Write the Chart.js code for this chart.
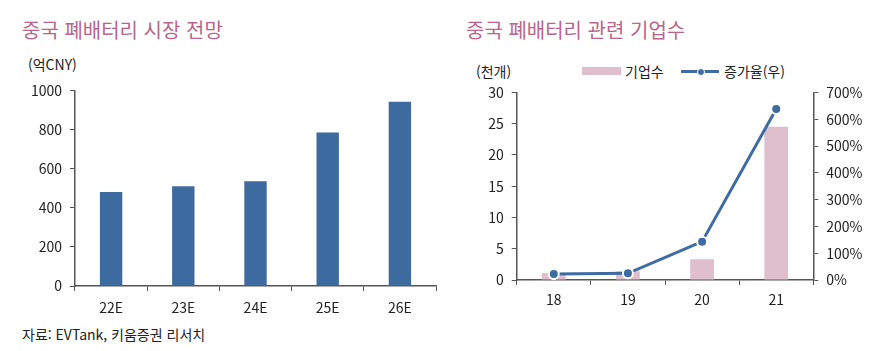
<!DOCTYPE html>
<html lang="ko">
<head>
<meta charset="utf-8">
<script src="https://cdn.jsdelivr.net/npm/chart.js@4"></script>
<style>
    body {
        margin: 0;
        width: 892px;
        height: 351px;
        background: #fff;
        font-family: "Noto Sans CJK KR", "Noto Sans", sans-serif;
        color: #222;
        position: relative;
        overflow: hidden;
    }
    .title {
        position: absolute;
        font-size: 20px;
        color: #b8668c;
        white-space: nowrap;
        line-height: 1;
    }
    .note {
        position: absolute;
        font-size: 14px;
        white-space: nowrap;
        line-height: 1;
    }
    .box {
        position: absolute;
        display: inline-block;
    }
    canvas { position: absolute; }
</style>
</head>
<body>

<div class="title" style="left:22px; top:20px;">중국 폐배터리 시장 전망</div>
<div class="note" style="left:28px; top:57px;">(억CNY)</div>
<div class="note" style="left:22px; top:327px;">자료: EVTank, 키움증권 리서치</div>

<div class="title" style="left:466px; top:20px;">중국 폐배터리 관련 기업수</div>
<div class="note" style="left:476px; top:64px;">(천개)</div>
<div class="box" style="left:582px; top:67px; width:39px; height:8px; background:#dfbfcc;"></div>
<div class="note" style="left:625px; top:64px;">기업수</div>
<div class="box" style="left:681px; top:70px; width:38px; height:3px; background:#3f6ba3;"></div>
<div class="box" style="left:697px; top:68px; width:6px; height:6px; border-radius:50%; background:#3f6ba3; border:1px solid #fff;"></div>
<div class="note" style="left:724px; top:64px;">증가율(우)</div>

<div style="position:absolute; left:0; top:74px; width:445px; height:242px;">
    <canvas id="marketChart"></canvas>
</div>
<div style="position:absolute; left:450px; top:76px; width:442px; height:239px;">
    <canvas id="companyChart"></canvas>
</div>

<script>
// 중국 폐배터리 시장 전망 (억CNY)
const marketYears = ['22E', '23E', '24E', '25E', '26E'];
const marketSize = [481, 510, 536, 785, 942];
const marketTicks = [0, 200, 400, 600, 800, 1000];

// 중국 폐배터리 관련 기업수 (천개) and 증가율
const companyYears = ['18', '19', '20', '21'];
const companyCount = [1.1, 1.4, 3.3, 24.5];
const growthRate = [22, 25, 143, 638];
const countTicks = [0, 5, 10, 15, 20, 25, 30];
const rateTicks = [0, 100, 200, 300, 400, 500, 600, 700];

const axisColor = '#555555';
const tickFont = { family: '"Noto Sans CJK KR", "Noto Sans", sans-serif', size: 14 };

Chart.defaults.animation = false;
Chart.defaults.color = '#222';

function axisGrid() {
    return {
        display: true,
        drawOnChartArea: false,
        drawTicks: true,
        tickLength: 5,
        color: axisColor,
        lineWidth: 1
    };
}

function fixedTicks(values) {
    return function(scale) {
        scale.ticks = values.map(v => ({ value: v }));
    };
}

// Left chart: market size bars
new Chart(document.getElementById('marketChart').getContext('2d'), {
    type: 'bar',
    data: {
        labels: marketYears,
        datasets: [{
            data: marketSize,
            backgroundColor: '#3d6a9f',
            barPercentage: 0.31,
            categoryPercentage: 1
        }]
    },
    options: {
        responsive: true,
        maintainAspectRatio: false,
        layout: { padding: { top: 5, right: 9, left: 0, bottom: 0 } },
        plugins: { legend: { display: false }, tooltip: { enabled: false } },
        scales: {
            x: {
                grid: axisGrid(),
                border: { color: axisColor, width: 1.5 },
                ticks: { font: tickFont, padding: 8, color: '#222' },
                afterFit: s => { s.height = 30; }
            },
            y: {
                min: 0,
                max: 1000,
                grid: axisGrid(),
                border: { color: axisColor, width: 1.5 },
                ticks: { font: tickFont, padding: 8, color: '#222', callback: v => String(v) },
                afterBuildTicks: fixedTicks(marketTicks),
                afterFit: s => { s.width = 75; }
            }
        }
    }
});

// Right chart: company count bars + growth rate line
new Chart(document.getElementById('companyChart').getContext('2d'), {
    type: 'bar',
    data: {
        labels: companyYears,
        datasets: [
            {
                type: 'line',
                data: growthRate,
                yAxisID: 'y1',
                borderColor: '#3f6ba3',
                borderWidth: 3,
                pointRadius: 5,
                pointBackgroundColor: '#3f6ba3',
                pointBorderColor: '#ffffff',
                pointBorderWidth: 2,
                tension: 0,
                order: 0
            },
            {
                data: companyCount,
                yAxisID: 'y',
                backgroundColor: '#dfbfcc',
                barPercentage: 0.32,
                categoryPercentage: 1,
                order: 1
            }
        ]
    },
    options: {
        responsive: true,
        maintainAspectRatio: false,
        layout: { padding: { top: 9, right: 0, left: 0, bottom: 0 } },
        plugins: { legend: { display: false }, tooltip: { enabled: false } },
        scales: {
            x: {
                offset: true,
                grid: Object.assign(axisGrid(), { offset: true }),
                border: { color: axisColor, width: 1.5 },
                ticks: { font: tickFont, padding: 6, color: '#222' },
                afterFit: s => { s.height = 35; }
            },
            y: {
                position: 'left',
                min: 0,
                max: 30,
                grid: axisGrid(),
                border: { color: axisColor, width: 1.5 },
                ticks: { font: tickFont, padding: 8, color: '#222' },
                afterBuildTicks: fixedTicks(countTicks),
                afterFit: s => { s.width = 66.7; }
            },
            y1: {
                position: 'right',
                min: 0,
                max: 700,
                grid: axisGrid(),
                border: { color: axisColor, width: 1.5 },
                ticks: {
                    font: tickFont,
                    padding: 8,
                    color: '#222',
                    callback: v => v + '%'
                },
                afterBuildTicks: fixedTicks(rateTicks),
                afterFit: s => { s.width = 78.7; }
            }
        }
    }
});
</script>
</body>
</html>
